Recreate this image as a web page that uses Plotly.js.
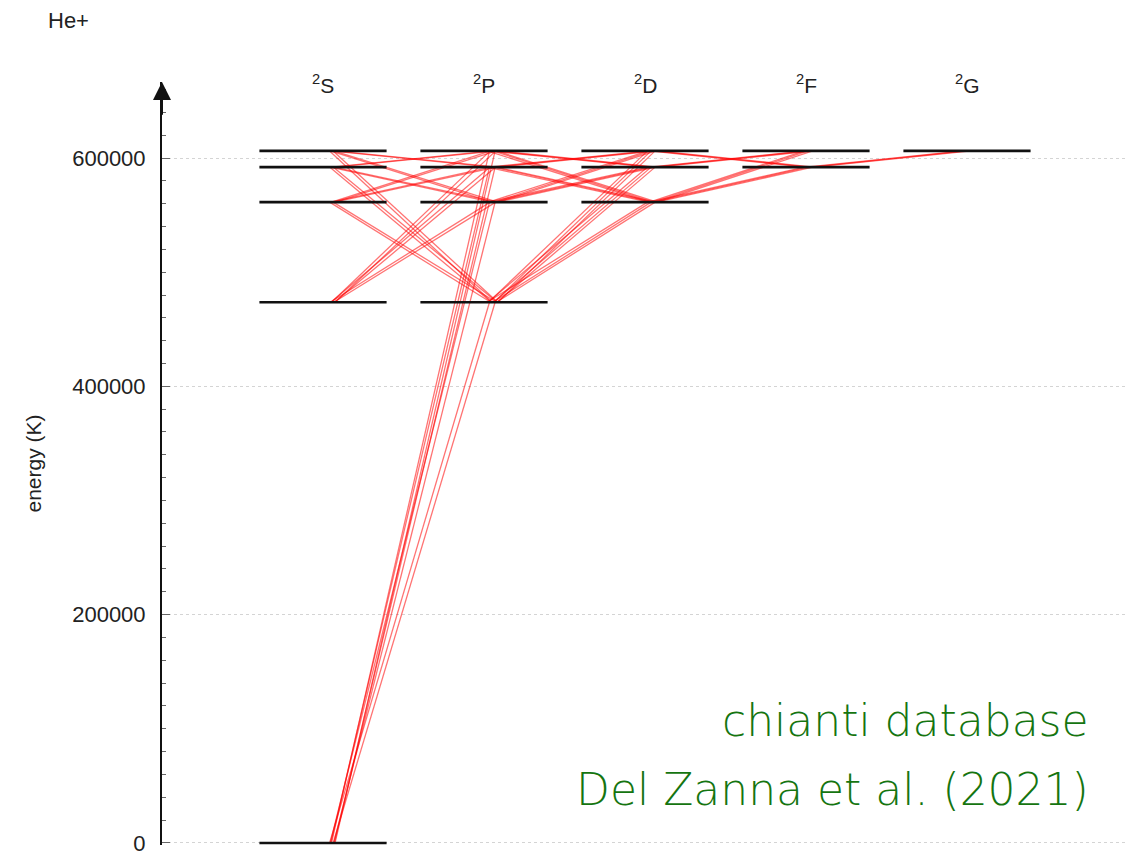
<!DOCTYPE html>
<html>
<head>
<meta charset="utf-8">
<script src="https://cdn.plot.ly/plotly-3.0.1.min.js"></script>
<style>html,body{margin:0;padding:0;background:#fff;}#chart{width:1141px;height:853px;}</style>
</head>
<body>
<div id="chart"></div>
<script>
// ---- data ----
const termNames = ['S', 'P', 'D', 'F', 'G'];
const termLabels = ['<sup>2</sup>S', '<sup>2</sup>P', '<sup>2</sup>D', '<sup>2</sup>F', '<sup>2</sup>G'];

// levels of He+ (n l J) and energies in K
const levelNames = ['1s','2s','2p1/2','2p3/2','3s','3p1/2','3p3/2','3d3/2','3d5/2',
  '4s','4p1/2','4p3/2','4d3/2','4d5/2','4f5/2','4f7/2',
  '5s','5p1/2','5p3/2','5d3/2','5d5/2','5f5/2','5f7/2','5g7/2','5g9/2'];
const levelTerm = ['S','S','P','P','S','P','P','D','D',
  'S','P','P','D','D','F','F',
  'S','P','P','D','D','F','F','G','G'];
const levelEnergyK = [0, 473624, 473623, 473632, 561337, 561337, 561340, 561340, 561341,
  592033, 592033, 592034, 592034, 592035, 592035, 592035,
  606242, 606242, 606243, 606243, 606243, 606243, 606243, 606243, 606243];

// radiative transitions (lower - upper)
const transLower = [
  '1s','1s','1s','1s','1s','1s','1s','1s',
  '2s','2s','2s','2s','2s','2s',
  '2p1/2','2p3/2','2p1/2','2p3/2','2p1/2','2p3/2',
  '3s','3s','3s','3s',
  '3p1/2','3p3/2','3p1/2','3p3/2',
  '4s','4s',
  '4p1/2','4p3/2',
  '2p1/2','2p3/2','2p3/2','2p1/2','2p3/2','2p3/2','2p1/2','2p3/2','2p3/2',
  '3p1/2','3p3/2','3p3/2','3p1/2','3p3/2','3p3/2',
  '3d3/2','3d3/2','3d5/2','3d3/2','3d3/2','3d5/2',
  '4p1/2','4p3/2','4p3/2',
  '4d3/2','4d3/2','4d5/2',
  '3d3/2','3d5/2','3d5/2','3d3/2','3d5/2','3d5/2',
  '4d3/2','4d5/2','4d5/2',
  '4f5/2','4f5/2','4f7/2',
  '4f5/2','4f7/2','4f7/2'];
const transUpper = [
  '2p1/2','2p3/2','3p1/2','3p3/2','4p1/2','4p3/2','5p1/2','5p3/2',
  '3p1/2','3p3/2','4p1/2','4p3/2','5p1/2','5p3/2',
  '3s','3s','4s','4s','5s','5s',
  '4p1/2','4p3/2','5p1/2','5p3/2',
  '4s','4s','5s','5s',
  '5p1/2','5p3/2',
  '5s','5s',
  '3d3/2','3d3/2','3d5/2','4d3/2','4d3/2','4d5/2','5d3/2','5d3/2','5d5/2',
  '4d3/2','4d3/2','4d5/2','5d3/2','5d3/2','5d5/2',
  '4p1/2','4p3/2','4p3/2','5p1/2','5p3/2','5p3/2',
  '5d3/2','5d3/2','5d5/2',
  '5p1/2','5p3/2','5p3/2',
  '4f5/2','4f5/2','4f7/2','5f5/2','5f5/2','5f7/2',
  '5f5/2','5f5/2','5f7/2',
  '5d3/2','5d5/2','5d5/2',
  '5g7/2','5g7/2','5g9/2'];

// ---- drawing style ----
const halfBar = 0.395;
const endShift = {'s':0.045,'p1/2':0.02,'p3/2':0.055,'d3/2':0.02,'d5/2':0.045,
                  'f5/2':-0.01,'f7/2':0.02,'g7/2':-0.03,'g9/2':0.0};
const highJ = {'s':1,'p1/2':0,'p3/2':1,'d3/2':0,'d5/2':1,'f5/2':0,'f7/2':1,'g7/2':0,'g9/2':1};

function kind(name){ return name.replace(/^\d+/, ''); }
function col(name){ return termNames.indexOf(levelTerm[levelNames.indexOf(name)]); }
function en(name){ return levelEnergyK[levelNames.indexOf(name)]; }
function endX(name, partner){
  const n = parseInt(partner, 10);
  return col(name) + endShift[kind(name)] + 0.022 * highJ[kind(partner)] + 0.004 * (n - 3);
}

// level bars (one per n,l term)
const barX = [], barY = [];
const seen = {};
levelNames.forEach((nm, i) => {
  const key = nm.match(/^\d+[a-z]/)[0];
  if (seen[key]) return;
  seen[key] = true;
  const c = col(nm);
  barX.push(c - halfBar, c + halfBar, null);
  barY.push(levelEnergyK[i], levelEnergyK[i], null);
});

const lineX = [], lineY = [];
for (let i = 0; i < transLower.length; i++) {
  lineX.push(endX(transLower[i], transUpper[i]), endX(transUpper[i], transLower[i]), null);
  lineY.push(en(transLower[i]), en(transUpper[i]), null);
}

const traces = [
  {type:'scatter', mode:'lines', x: lineX, y: lineY, hoverinfo:'skip', cliponaxis:false,
   line:{color:'rgba(255,0,0,0.55)', width:1.3}, showlegend:false},
  {type:'scatter', mode:'lines', x: barX, y: barY, hoverinfo:'skip', cliponaxis:false,
   line:{color:'#111', width:2.6}, showlegend:false}
];

const yTop = 666600;
const yBottom = -1800;
const font = 'Liberation Sans, Arial, Helvetica, sans-serif';
const greenFont = 'DejaVu Sans, Liberation Sans, sans-serif';
const annotations = termLabels.map((t, i) => ({
  text: t, x: i, y: 665000, xref:'x', yref:'y', showarrow:false,
  xanchor:'center', yanchor:'middle', font:{family:font, size:21, color:'#222'}
}));
annotations.push({
  text:'', x:-1, y:yTop, ax:-1, ay:yTop-30000, xref:'x', yref:'y', axref:'x', ayref:'y',
  showarrow:true, arrowhead:2, arrowsize:1.8, arrowwidth:2, arrowcolor:'#111'
});
annotations.push({text:'chianti database', x:4.772, y:107700, xref:'x', yref:'y', showarrow:false,
  xanchor:'right', yanchor:'middle', font:{family:greenFont, size:44, weight:300, color:'#157510'}});
annotations.push({text:'Del Zanna et al. (2021)', x:4.772, y:46400, xref:'x', yref:'y', showarrow:false,
  xanchor:'right', yanchor:'middle', font:{family:greenFont, size:44, weight:300, color:'#157510'}});

const layout = {
  width:1141, height:853,
  margin:{l:162, r:13, t:82, b:8},
  paper_bgcolor:'#fff', plot_bgcolor:'#fff',
  showlegend:false,
  title:{text:'He+', x:48/1141, xanchor:'left', y:1-20/853, yanchor:'middle',
         font:{family:font, size:22, color:'#222'}},
  xaxis:{range:[-1,5], visible:false, fixedrange:true},
  yaxis:{range:[yBottom,yTop], showline:true, linecolor:'#111', linewidth:2,
         ticks:'inside', ticklen:8, tickwidth:1, tickcolor:'#666',
         tick0:0, dtick:200000, tickformat:'d', ticklabeloverflow:'allow',
         showgrid:true, gridcolor:'#d4d4d4', griddash:'dot', gridwidth:1,
         zeroline:false, ticklabelstandoff:10,
         tickfont:{family:font, size:22, color:'#222'},
         minor:{dtick:20000, ticks:'inside', ticklen:4, tickcolor:'#666', showgrid:false},
         title:{text:'energy (K)', standoff:25, font:{family:font, size:21, color:'#222'}},
         fixedrange:true},
  annotations: annotations
};

Plotly.newPlot('chart', traces, layout, {staticPlot:true, displayModeBar:false});
</script>
</body>
</html>
